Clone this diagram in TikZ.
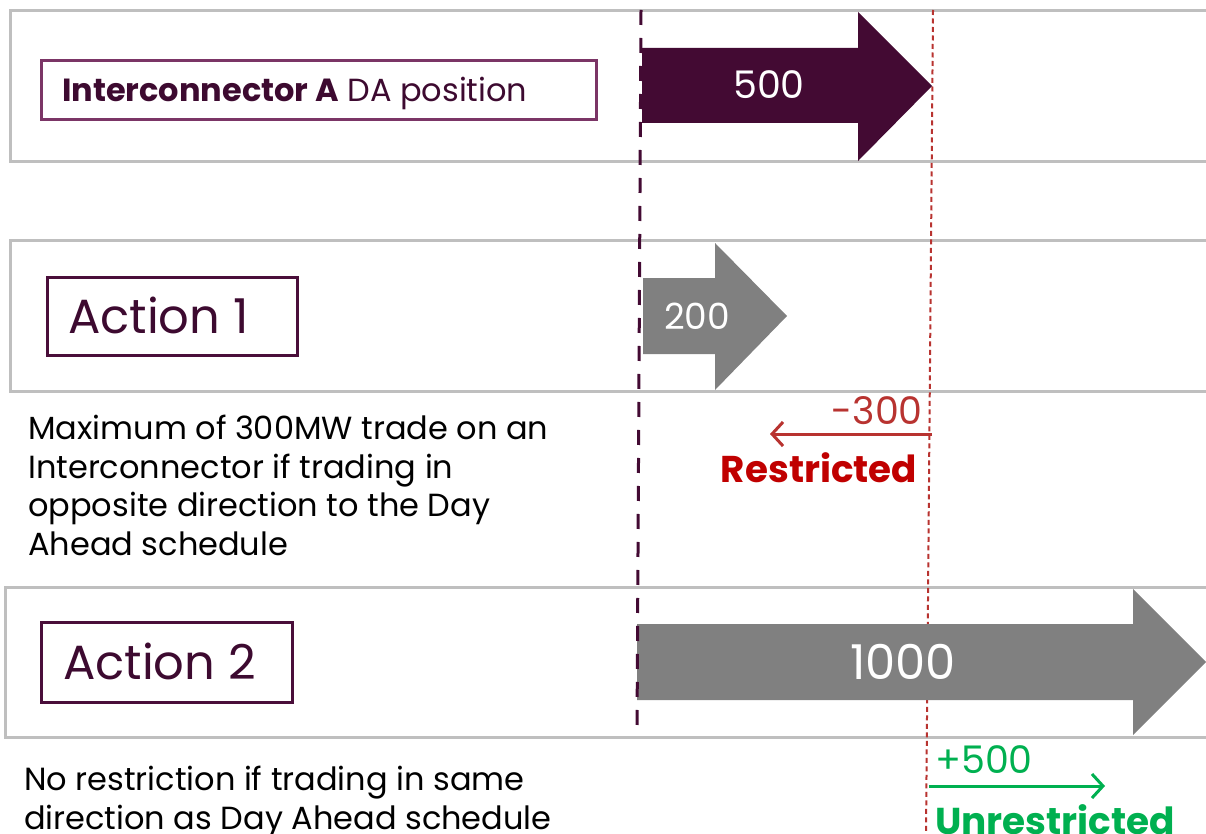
\documentclass[tikz,border=0pt]{standalone}
\usepackage{fontspec}
\setmainfont{Poppins}
\usetikzlibrary{arrows.meta}

\definecolor{rowgray}{HTML}{BFBFBF}
\definecolor{plumdark}{HTML}{430A33}
\definecolor{plumline}{HTML}{4A0E3A}
\definecolor{plumsoft}{HTML}{7B3566}
\definecolor{plumtext}{HTML}{3D0A30}
\definecolor{flowgray}{HTML}{808080}
\definecolor{limitred}{HTML}{B83330}
\definecolor{strongred}{HTML}{C00000}
\definecolor{okgreen}{HTML}{00B050}

\tikzset{
  rowframe/.style={draw=rowgray, line width=3pt},
  tagbox/.style={draw=plumline, line width=3pt, inner sep=0pt},
  tagtext/.style={inner sep=0pt, anchor=west, text=plumtext},
  flowtext/.style={inner sep=0pt, text=white},
  notetext/.style={inner sep=0pt, anchor=north west, align=left, text=black,
    font=\fontsize{32}{38.5}\selectfont},
  zeroline/.style={draw=plumdark, line width=3pt, dash pattern=on 15pt off 13pt},
  daline/.style={draw=limitred, line width=2pt, dash pattern=on 5pt off 3.5pt},
  deltaarrow/.style={line width=3pt, -{Straight Barb[length=11pt,width=24pt,line width=3pt]}},
}

\begin{document}
\begin{tikzpicture}[x=1pt,y=-1pt]
\useasboundingbox (0,0) rectangle (1206,834);
\begin{scope}
\clip (0,0) rectangle (1206,834);

% row frames (open to the right)
\draw[rowframe] (10,11) rectangle (1240,162);
\draw[rowframe] (10,241) rectangle (1240,391);
\draw[rowframe] (5,587) rectangle (1240,737);

% day-ahead position reference line
\draw[daline] (933,10) -- (926,834);

% flow arrows
\fill[plumdark] (642,48) -- (858,48) -- (858,12) -- (932,86) -- (858,161) -- (858,123) -- (642,123) -- cycle;
\fill[flowgray] (643,278) -- (715,278) -- (715,243) -- (787,316) -- (715,390) -- (715,354) -- (643,354) -- cycle;
\fill[flowgray] (637,624) -- (1133,624) -- (1133,589) -- (1206,662) -- (1133,735) -- (1133,700) -- (637,700) -- cycle;

% zero line
\draw[zeroline] (641,10) -- (637,732);

% label boxes
\node[tagbox, draw=plumsoft, minimum width=555pt, minimum height=59pt] (ibox) at (318.5,90.5) {};
\node[tagtext, font=\fontsize{32}{36}\selectfont] (ilabel) at (62,93) {\textbf{Interconnector A} DA position};

\node[tagbox, minimum width=250pt, minimum height=78pt] (a1box) at (172,316) {};
\node[tagtext, font=\fontsize{48}{56}\selectfont] (a1label) at (68,315) {Action 1};

\node[tagbox, minimum width=251pt, minimum height=80pt] (a2box) at (166.5,662) {};
\node[tagtext, font=\fontsize{48}{56}\selectfont] (a2label) at (63,661) {Action 2};

% flow values
\node[flowtext, font=\fontsize{38}{44}\selectfont] (v500) at (769,85) {500};
\node[flowtext, font=\fontsize{36}{42}\selectfont] (v200) at (697,316) {200};
\node[flowtext, font=\fontsize{48}{56}\selectfont] (v1000) at (903,662) {1000};

% explanatory notes
\node[notetext] (note1) at (28,415) {Maximum of 300MW trade on an\\Interconnector if trading in\\opposite direction to the Day\\Ahead schedule};
\node[notetext] (note2) at (24,766) {No restriction if trading in same\\direction as Day Ahead schedule};

% restricted change
\coordinate (rstart) at (932,434);
\coordinate (rend) at (770,434);
\draw[deltaarrow, draw=limitred] (rstart) -- (rend);
\node[inner sep=0pt, anchor=east, text=limitred, font=\fontsize{38}{44}\selectfont] (m300) at (923,411) {-300};
\node[inner sep=0pt, text=strongred, font=\fontsize{37.3}{42}\selectfont\bfseries] (restr) at (819,468) {Restricted};

% unrestricted change
\coordinate (ustart) at (929,786);
\coordinate (uend) at (1105,786);
\draw[deltaarrow, draw=okgreen] (ustart) -- (uend);
\node[inner sep=0pt, anchor=west, text=okgreen, font=\fontsize{38}{44}\selectfont] (p500) at (935,760) {+500};
\node[inner sep=0pt, anchor=west, text=okgreen, font=\fontsize{37.4}{42}\selectfont\bfseries] (unrestr) at (935,820) {Unrestricted};
\end{scope}
\end{tikzpicture}
\end{document}
